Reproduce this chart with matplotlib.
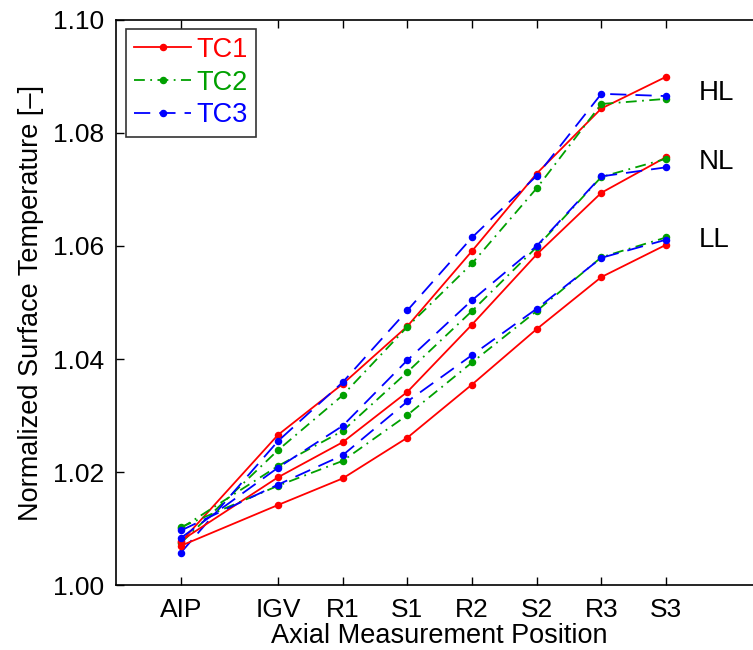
import matplotlib
matplotlib.use("Agg")
import matplotlib.pyplot as plt

plt.rcParams['font.family'] = ['Liberation Sans', 'DejaVu Sans']

positions = ["AIP", "IGV", "R1", "S1", "R2", "S2", "R3", "S3"]
x_pos = [0, 1.5, 2.5, 3.5, 4.5, 5.5, 6.5, 7.5]

# HL
hl_tc1 = [1.0077, 1.0266, 1.0356, 1.0458, 1.0591, 1.0728, 1.0843, 1.0899]
hl_tc2 = [1.0075, 1.0239, 1.0336, 1.0457, 1.0569, 1.0702, 1.0851, 1.0860]
hl_tc3 = [1.0058, 1.0255, 1.0359, 1.0486, 1.0615, 1.0724, 1.0869, 1.0865]
# NL
nl_tc1 = [1.0079, 1.0191, 1.0253, 1.0342, 1.0461, 1.0585, 1.0694, 1.0757]
nl_tc2 = [1.0101, 1.0211, 1.0273, 1.0377, 1.0485, 1.0598, 1.0722, 1.0754]
nl_tc3 = [1.0084, 1.0208, 1.0282, 1.0398, 1.0504, 1.0600, 1.0723, 1.0739]
# LL
ll_tc1 = [1.0070, 1.0142, 1.0189, 1.0261, 1.0355, 1.0453, 1.0545, 1.0602]
ll_tc2 = [1.0103, 1.0176, 1.0220, 1.0301, 1.0394, 1.0485, 1.0580, 1.0615]
ll_tc3 = [1.0097, 1.0178, 1.0230, 1.0325, 1.0407, 1.0489, 1.0579, 1.0611]

group_labels = ["HL", "NL", "LL"]
group_label_y = [1.0870, 1.0749, 1.0610]

fig = plt.figure(figsize=(7.53, 6.5), dpi=100)
ax = fig.add_axes([0.1545, 0.0995, 0.8588, 0.8702])

styles = {
    "TC1": dict(color="#ff0000", linestyle="-"),
    "TC2": dict(color="#00a000", linestyle=(0, (6, 3, 1, 3))),
    "TC3": dict(color="#0000ff", linestyle=(0, (9, 5))),
}

groups = [(hl_tc1, hl_tc2, hl_tc3), (nl_tc1, nl_tc2, nl_tc3), (ll_tc1, ll_tc2, ll_tc3)]
for gi, (a, b, c) in enumerate(groups):
    for name, data in zip(["TC1", "TC2", "TC3"], [a, b, c]):
        ax.plot(x_pos, data, marker="o", markersize=4.4, linewidth=1.3,
                label=name if gi == 0 else None, **styles[name])

for lab, yy in zip(group_labels, group_label_y):
    ax.text(8.0, yy, lab, fontsize=20, ha="left", va="center", color="black")

ax.set_xlim(-1, 9)
ax.set_ylim(1.00, 1.10)
ax.set_xticks(x_pos)
ax.set_xticklabels(positions)
ax.set_yticks([1.00, 1.02, 1.04, 1.06, 1.08, 1.10])
ax.set_yticklabels(["1.00", "1.02", "1.04", "1.06", "1.08", "1.10"])
ax.tick_params(direction="in", length=6, width=1, labelsize=19, pad=9,
               top=True, right=True)
for s in ax.spines.values():
    s.set_linewidth(1.2)

ax.set_xlabel("Axial Measurement Position", fontsize=19.5, labelpad=1)
ax.set_ylabel("Normalized Surface Temperature [–]", fontsize=19.5, labelpad=6)

leg = ax.legend(loc="upper left", bbox_to_anchor=(0.015, 0.984), fontsize=19.5,
                frameon=True, fancybox=False, handlelength=2.1, handletextpad=0.2,
                borderpad=0.3, labelspacing=0.25, borderaxespad=0)
leg.get_frame().set_edgecolor("black")
leg.get_frame().set_linewidth(1.2)
for txt, name in zip(leg.get_texts(), ["TC1", "TC2", "TC3"]):
    txt.set_color(styles[name]["color"])

fig.savefig("out.png", dpi=100)
